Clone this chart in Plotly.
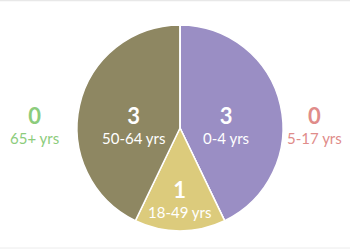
import math
import plotly.graph_objects as go

groups = ["0-4 yrs", "5-17 yrs", "18-49 yrs", "50-64 yrs", "65+ yrs"]
counts = [3, 0, 1, 3, 0]
colors = ["#9a8ec4", "#e08c8a", "#dccb7c", "#8e8762", "#8ccc7c"]

W, H = 350, 250
CX, CY, R = 180, 128, 103  # pie centre / radius in px

fig = go.Figure(go.Pie(
    labels=groups, values=counts, sort=False, direction="clockwise", rotation=0,
    marker=dict(colors=colors, line=dict(color="white", width=1.5)),
    textinfo="none",
    domain=dict(x=[(CX - R) / W, (CX + R) / W], y=[(H - CY - R) / H, (H - CY + R) / H]),
    showlegend=False, hoverinfo="label+value",
))

def add_text(px, py, v, g, color):
    # py = desired vertical centre of the number
    fig.add_annotation(x=px / W, y=1 - (py + 9) / H, xref="paper", yref="paper",
                       xanchor="center", yanchor="middle",
                       text=f"<span style='font-size:22px'><b>{v}</b></span><br>{g}",
                       showarrow=False, borderpad=0,
                       font=dict(family="Lato", size=15, color=color))

total = sum(counts)
start = 0.0
for g, v, c in zip(groups, counts, colors):
    theta = 2 * math.pi * v / total
    if v > 0:
        mid = start + theta / 2
        d = 0.95 * (2 / 3) * R * math.sin(theta / 2) / (theta / 2)
        px = CX + d * math.sin(mid)
        py = CY - d * math.cos(mid) - 2
        add_text(px, py, v, g, "white")
    else:
        right = start < math.pi
        add_text(314 if right else 34, 115, v, g, c)
    start += theta

fig.add_shape(type="line", xref="paper", yref="paper", x0=0, x1=1, y0=0.998, y1=0.998,
              line=dict(color="#e8e8e8", width=1.5))
fig.add_shape(type="line", xref="paper", yref="paper", x0=0, x1=1, y0=0.008, y1=0.008,
              line=dict(color="#ececec", width=1))

fig.update_layout(width=W, height=H, margin=dict(l=0, r=0, t=0, b=0),
                  paper_bgcolor="white", plot_bgcolor="white")
fig.write_html("out.html")
